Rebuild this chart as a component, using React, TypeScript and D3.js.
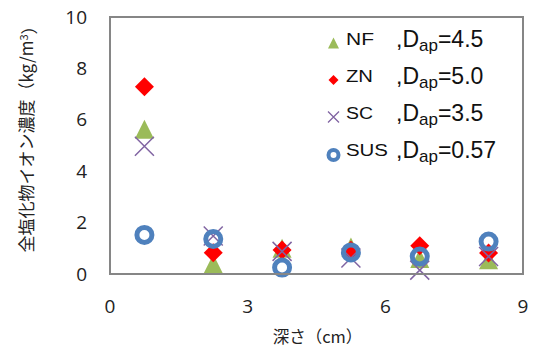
import * as d3 from "d3";
import { useEffect, useRef } from "react";

// depth (cm) and total chloride ion concentration (kg/m3)
const depth = [0.75, 2.25, 3.75, 5.25, 6.75, 8.25];
const nfValues = [5.63, 0.4, 1.0, 1.05, 0.6, 0.55];
const znValues = [7.29, 0.83, 0.93, 0.92, 1.1, 0.82];
const scValues = [4.97, 1.48, 0.88, 0.62, 0.15, 0.68];
const susValues = [1.52, 1.36, 0.25, 0.84, 0.68, 1.26];

const seriesNames = ["NF", "ZN", "SC", "SUS"];
const dapLabels = ["4.5", "5.0", "3.5", "0.57"];

const xTicks = [0, 3, 6, 9];
const yTicks = [0, 2, 4, 6, 8, 10];

const triangleType = {
  draw(ctx: any, size: number) {
    const r = Math.sqrt(size) / 2;
    ctx.moveTo(0, -r);
    ctx.lineTo(r, r);
    ctx.lineTo(-r, r);
    ctx.closePath();
  }
};

const diamondType = {
  draw(ctx: any, size: number) {
    const r = Math.sqrt(size) / 2;
    ctx.moveTo(0, -r);
    ctx.lineTo(r, 0);
    ctx.lineTo(0, r);
    ctx.lineTo(-r, 0);
    ctx.closePath();
  }
};

const crossType = {
  draw(ctx: any, size: number) {
    const r = Math.sqrt(size) / 2;
    ctx.moveTo(-r, -r);
    ctx.lineTo(r, r);
    ctx.moveTo(r, -r);
    ctx.lineTo(-r, r);
  }
};

const App = () => {
  const chartRef = useRef<SVGSVGElement>(null);

  const width = 533;
  const height = 347;
  const margin = { top: 17, bottom: 73, left: 110, right: 10 };

  useEffect(() => {
    const svg = d3.select(chartRef.current);
    svg.selectAll("*").remove();

    const x = d3.scaleLinear().domain([0, 9]).range([margin.left, width - margin.right]);
    const y = d3.scaleLinear().domain([0, 10]).range([height - margin.bottom, margin.top]);

    const tickFont = "'Open Sans', 'Noto Sans', sans-serif";
    const jpFont = "'Noto Sans CJK JP', sans-serif";
    const latinFont = "'Liberation Sans', Arial, sans-serif";

    svg.append("rect")
      .attr("x", 0).attr("y", 0).attr("width", width).attr("height", height)
      .style("fill", "white");

    // y tick labels
    svg.append("g")
      .selectAll("text")
      .data(yTicks)
      .enter()
      .append("text")
      .attr("x", margin.left - 23)
      .attr("y", d => y(d))
      .attr("dy", "0.35em")
      .attr("text-anchor", "end")
      .style("font-family", tickFont)
      .style("font-size", "19px")
      .style("fill", "#222")
      .text(d => d);

    // x tick labels
    svg.append("g")
      .selectAll("text")
      .data(xTicks)
      .enter()
      .append("text")
      .attr("x", d => x(d))
      .attr("y", 306)
      .attr("dy", "0.35em")
      .attr("text-anchor", "middle")
      .style("font-family", tickFont)
      .style("font-size", "19px")
      .style("fill", "#222")
      .text(d => d);

    // axis titles
    svg.append("text")
      .attr("x", (x(0) + x(9)) / 2 + 1)
      .attr("y", 337)
      .attr("dy", "0.35em")
      .attr("text-anchor", "middle")
      .style("font-family", jpFont)
      .style("font-size", "16.5px")
      .style("fill", "#222")
      .text("深さ（cm）");

    const yTitle = svg.append("text")
      .attr("transform", "translate(27,135) rotate(-90)")
      .attr("dy", "0.35em")
      .attr("text-anchor", "middle")
      .style("font-family", jpFont)
      .style("font-size", "17px")
      .style("fill", "#222");
    yTitle.append("tspan").text("全塩化物イオン濃度（kg/m");
    yTitle.append("tspan").attr("dy", "-0.45em").style("font-size", "11px").text("3");
    yTitle.append("tspan").attr("dy", "0.45em").text("）");

    const plot = svg.append("g");

    const series = [
      { values: nfValues, type: triangleType, color: "#9BBB59", kind: "fill", size: 19, legendSize: 11, nameLen: 28 },
      { values: znValues, type: diamondType, color: "#FF0000", kind: "fill", size: 19, legendSize: 10, nameLen: 27 },
      { values: scValues, type: crossType, color: "#8064A2", kind: "stroke", size: 19, legendSize: 11, nameLen: 27 },
      { values: susValues, type: null, color: "#4F81BD", kind: "ring", size: 15, legendSize: 10, nameLen: 42 }
    ];

    series.forEach(item => {
      const pts = depth.map((d, i) => [d, item.values[i]]);
      if (item.kind === "ring") {
        plot.append("g")
          .selectAll("circle")
          .data(pts)
          .enter()
          .append("circle")
          .attr("cx", d => x(d[0]))
          .attr("cy", d => y(d[1]))
          .attr("r", 7.5)
          .style("fill", "none")
          .style("stroke", item.color)
          .style("stroke-width", 5);
        return;
      }
      const sym = d3.symbol().type(item.type as any).size(item.size * item.size);
      plot.append("g")
        .selectAll("path")
        .data(pts)
        .enter()
        .append("path")
        .attr("transform", d => `translate(${x(d[0])},${y(d[1])})`)
        .attr("d", sym())
        .style("fill", item.kind === "fill" ? item.color : "none")
        .style("stroke", item.kind === "stroke" ? item.color : "none")
        .style("stroke-width", 1.5);
    });

    // frame
    svg.append("rect")
      .attr("x", x(0))
      .attr("y", y(10))
      .attr("width", x(9) - x(0))
      .attr("height", y(0) - y(10))
      .style("fill", "none")
      .style("stroke", "#868686")
      .style("stroke-width", 2);

    // legend
    const legend = svg.append("g");
    series.forEach((item, i) => {
      const base = 46.5 + i * 37;
      const row = legend.append("g");
      if (item.kind === "ring") {
        row.append("circle")
          .attr("cx", 333.5).attr("cy", base - 2.5).attr("r", 5)
          .style("fill", "none").style("stroke", item.color).style("stroke-width", 4);
      } else {
        row.append("path")
          .attr("transform", `translate(333.5,${base - 3.5})`)
          .attr("d", d3.symbol().type(item.type as any).size(item.legendSize * item.legendSize)())
          .style("fill", item.kind === "fill" ? item.color : "none")
          .style("stroke", item.kind === "stroke" ? item.color : "none")
          .style("stroke-width", 1.3);
      }
      row.append("text")
        .attr("x", 346)
        .attr("y", base - 1.5)
        .attr("textLength", item.nameLen)
        .attr("lengthAdjust", "spacingAndGlyphs")
        .style("font-family", latinFont)
        .style("font-size", "16px")
        .style("fill", "#111")
        .text(seriesNames[i]);
      const t = row.append("text")
        .attr("x", 396)
        .attr("y", base)
        .style("font-family", latinFont)
        .style("font-size", "23px")
        .style("fill", "#111");
      t.append("tspan").text(",D");
      t.append("tspan").attr("dy", 4.5).style("font-size", "17px").text("ap");
      t.append("tspan").attr("dy", -4.5).text("=" + dapLabels[i]);
    });
  }, []);

  return (
    <svg
      ref={chartRef}
      width={width}
      height={height}
      style={{ position: "absolute", left: 0, top: 0 }}
    ></svg>
  );
};

export default App;
